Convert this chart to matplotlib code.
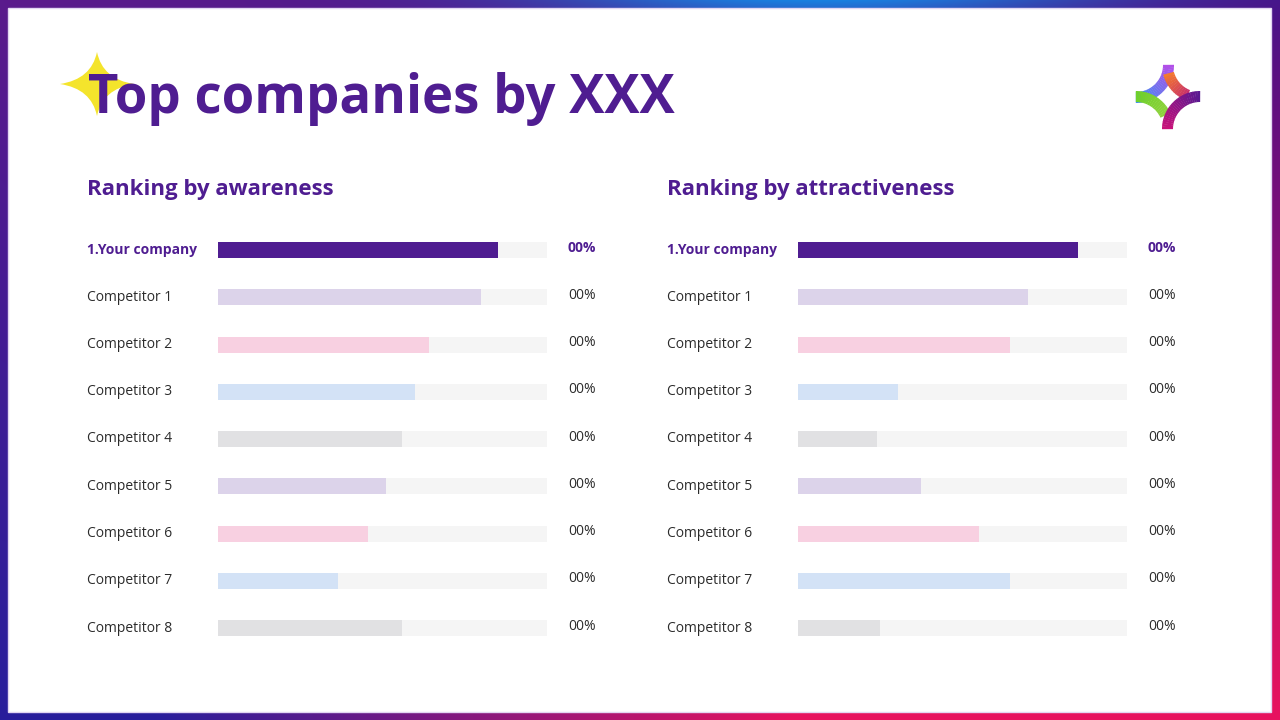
import numpy as np
import matplotlib
matplotlib.use("Agg")
import matplotlib.pyplot as plt
from matplotlib.patches import Rectangle, Wedge, PathPatch
from matplotlib.path import Path
from matplotlib.transforms import blended_transform_factory
import matplotlib.colors as mcolors

# ---------------- data ----------------
title = "Top companies by XXX"
left_title = "Ranking by awareness"
right_title = "Ranking by attractiveness"
companies = ["1.Your company", "Competitor 1", "Competitor 2", "Competitor 3",
             "Competitor 4", "Competitor 5", "Competitor 6", "Competitor 7",
             "Competitor 8"]
awareness = [0.85, 0.80, 0.64, 0.60, 0.56, 0.51, 0.455, 0.365, 0.56]
attractiveness = [0.85, 0.70, 0.645, 0.305, 0.24, 0.375, 0.55, 0.645, 0.25]
awareness_labels = ["00%"] * 9
attractiveness_labels = ["00%"] * 9
bar_colors = ["#4f1d91", "#dcd3ea", "#f8d0e1", "#d3e2f6", "#e1e1e3",
              "#dcd3ea", "#f8d0e1", "#d3e2f6", "#e1e1e3"]
track_color = "#f5f5f5"
purple = "#4f1d91"
text_dark = "#2b2b2b"

FONT = "Open Sans"
W, H = 1280, 720

fig = plt.figure(figsize=(12.8, 7.2), dpi=100)

# ---------------- background frame ----------------
bg = fig.add_axes([0, 0, 1, 1])
bg.set_xlim(0, W)
bg.set_ylim(H, 0)
bg.axis("off")

x = np.linspace(0, 1, W)
y = np.linspace(0, 1, H)
X, Y = np.meshgrid(x, y)
TL = np.array([90, 26, 140]) / 255
TR = np.array([74, 15, 133]) / 255
BL = np.array([40, 30, 156]) / 255
BR = np.array([232, 18, 95]) / 255
wx = (1 - Y) * X + Y * np.clip((X - 0.12) / 0.5, 0, 1)
top = (1 - wx)[..., None] * TL + wx[..., None] * TR
bot = (1 - wx)[..., None] * BL + wx[..., None] * BR
img = (1 - Y)[..., None] * top + Y[..., None] * bot
blue = np.array([26, 128, 224]) / 255
g = np.exp(-((X - 0.64) / 0.22) ** 2) * np.exp(-Y / 0.05)
img = img * (1 - g[..., None]) + blue * g[..., None]
bg.imshow(img, extent=(0, W, H, 0), aspect="auto", zorder=0)
bg.add_patch(Rectangle((8, 8), 1263, 704, facecolor="white",
                       edgecolor="#e2d6f2", lw=1, zorder=1))

# ---------------- yellow star ----------------
cx, cy, rx, ry, k = 97, 84, 37, 32, 0.15
verts = [(cx, cy - ry), (cx + k * rx, cy - k * ry), (cx + rx, cy),
         (cx + k * rx, cy + k * ry), (cx, cy + ry),
         (cx - k * rx, cy + k * ry), (cx - rx, cy),
         (cx - k * rx, cy - k * ry), (cx, cy - ry)]
codes = [Path.MOVETO] + [Path.CURVE3] * 8
bg.add_patch(PathPatch(Path(verts, codes), facecolor="#f4e42c",
                       edgecolor="none", zorder=2))

# ---------------- title ----------------
bg.text(88, 113, title, fontsize=38, fontweight="bold", color=purple,
        family=FONT, va="baseline", ha="left", zorder=3)

# ---------------- logo ----------------
def band(center, th1, th2, c1, c2, r=38, w=11, n=24):
    c1 = np.array(mcolors.to_rgb(c1))
    c2 = np.array(mcolors.to_rgb(c2))
    ths = np.linspace(th1, th2, n + 1)
    for i in range(n):
        t = i / max(n - 1, 1)
        col = c1 * (1 - t) + c2 * t
        a, b = sorted((ths[i], ths[i + 1]))
        bg.add_patch(Wedge(center, r, a - 0.3, b + 0.3, width=w,
                           facecolor=col, edgecolor="none", zorder=3))

lx, ly, R = 1168, 97, 32
band((lx - R, ly - R), 0, 90, "#b24fe8", "#3d8ff2")
band((lx + R, ly - R), 165, 112, "#f47a2e", "#c8306a", n=12)
band((lx - R, ly + R), -90, -25, "#6fd02a", "#8fd23e", n=16)
band((lx + R, ly + R), 180, 270, "#c8127a", "#5a1890")

# ---------------- subtitles ----------------
bg.text(87, 189, left_title, fontsize=16, fontweight="bold", color=purple,
        family=FONT, va="center", ha="left")
bg.text(667, 189, right_title, fontsize=16, fontweight="bold", color=purple,
        family=FONT, va="center", ha="left")

# ---------------- bar panels ----------------
n = len(companies)
row_px = (628 - 250) / (n - 1)
top_px = 250 - row_px / 2
ax_h = row_px * n
ax_bottom = 1 - (top_px + ax_h) / H


def panel(track_x, label_x, value_x, values, vlabels):
    ax = fig.add_axes([track_x / W, ax_bottom, 329 / W, ax_h / H])
    idx = np.arange(n)
    bh = 16 / row_px
    ax.barh(idx, [1] * n, height=bh, color=track_color, zorder=1)
    ax.barh(idx, values, height=bh, color=bar_colors, zorder=2)
    ax.set_xlim(0, 1)
    ax.set_ylim(n - 0.5, -0.5)
    ax.axis("off")
    trans = blended_transform_factory(fig.transFigure, ax.transData)
    for i, (name, vl) in enumerate(zip(companies, vlabels)):
        first = i == 0
        ax.text(label_x / W, i, name, transform=trans, va="center",
                ha="left", fontsize=10, family=FONT,
                fontweight="bold" if first else "normal",
                color=purple if first else text_dark)
        ax.text(value_x / W, i - 0.04, vl, transform=trans, va="center",
                ha="left", fontsize=10, family=FONT,
                fontweight="bold" if first else "normal",
                color=purple if first else text_dark)
    return ax


panel(218, 87, 568, awareness, awareness_labels)
panel(798, 667, 1148, attractiveness, attractiveness_labels)

fig.savefig("out.png", dpi=100)
